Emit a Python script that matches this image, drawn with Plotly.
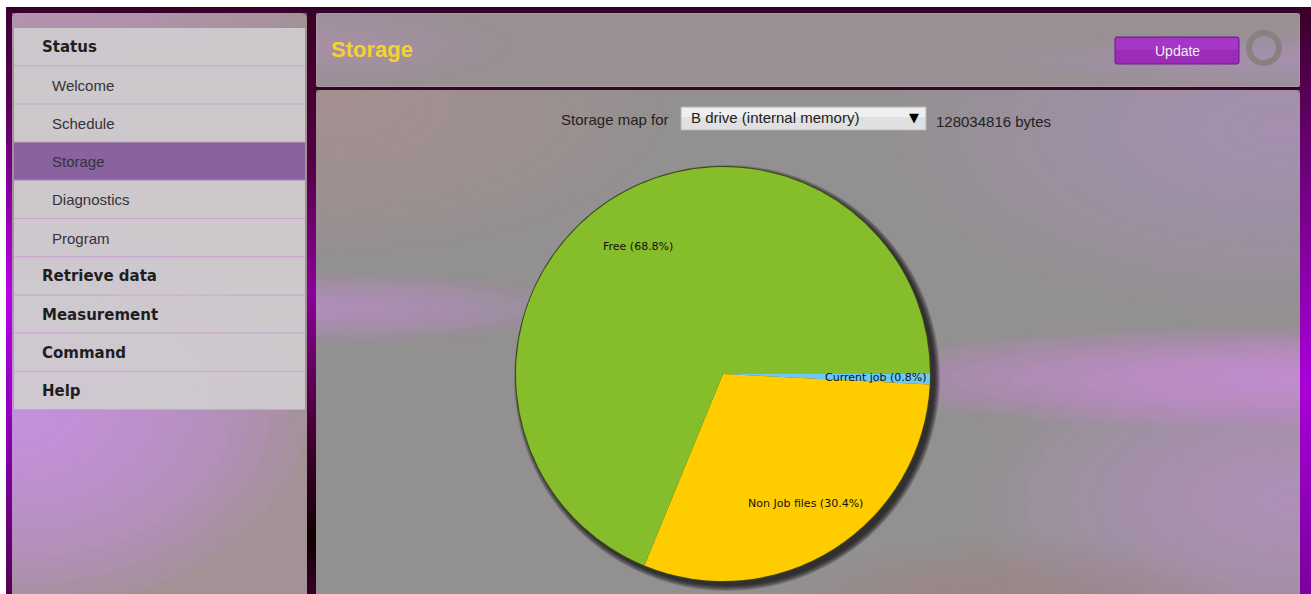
import math
import plotly.graph_objects as go

W, H = 1311, 594

# pie data
slice_labels = ['Current job', 'Non Job files', 'Free']
slice_values = [0.8, 30.4, 68.8]
slice_colors = ['#6ccaf6', '#ffcc00', '#86bd2a']

# page texts
menu_items = ['Status', 'Welcome', 'Schedule', 'Storage', 'Diagnostics', 'Program',
              'Retrieve data', 'Measurement', 'Command', 'Help']
menu_bold = [True, False, False, False, False, False, True, True, True, True]
menu_selected = 'Storage'
page_title = 'Storage'
drive_name = 'B drive (internal memory)'
drive_bytes = 128034816

PIE_CX, PIE_CY, PIE_R = 723, 374, 207


def px(x):
    return x / W


def py(y):
    return 1 - y / H


shapes = []


def rect(x0, y0, x1, y1, fill, line=None, opacity=1.0):
    shapes.append(dict(type='rect', xref='paper', yref='paper', layer='below',
                       x0=px(x0), x1=px(x1), y0=py(y1), y1=py(y0),
                       fillcolor=fill, opacity=opacity,
                       line=dict(width=1 if line else 0, color=line or fill)))


def rrect(x0, y0, x1, y1, r, fill, line=None):
    rx, ry = r / W, r / H
    a, b, c, d = px(x0), px(x1), py(y1), py(y0)
    p = (f'M{a + rx},{d} L{b - rx},{d} Q{b},{d} {b},{d - ry} L{b},{c + ry} '
         f'Q{b},{c} {b - rx},{c} L{a + rx},{c} Q{a},{c} {a},{c + ry} '
         f'L{a},{d - ry} Q{a},{d} {a + rx},{d} Z')
    shapes.append(dict(type='path', xref='paper', yref='paper', layer='below', path=p,
                       fillcolor=fill, line=dict(width=1 if line else 0, color=line or fill)))


def ellipse(cx, cy, rx, ry, fill, opacity=1.0, line=None, lw=0):
    shapes.append(dict(type='circle', xref='paper', yref='paper', layer='below',
                       x0=px(cx - rx), x1=px(cx + rx), y0=py(cy + ry), y1=py(cy - ry),
                       fillcolor=fill, opacity=opacity,
                       line=dict(width=lw, color=line or 'rgba(0,0,0,0)')))


def glow(cx, cy, rx, ry, color, steps=14, alpha=0.06):
    for i in range(steps):
        f = 1 - i / steps
        ellipse(cx, cy, rx * f, ry * f, color, opacity=alpha)


def hex2rgb(h):
    h = h.lstrip('#')
    return [int(h[i:i + 2], 16) for i in (0, 2, 4)]


def vgrad(x0, x1, stops, step=3):
    # vertical colour ramp made of thin strips
    for j in range(len(stops) - 1):
        ya, ca = stops[j]
        yb, cb = stops[j + 1]
        ca, cb = hex2rgb(ca), hex2rgb(cb)
        y = ya
        while y < yb:
            t = (y - ya) / max(yb - ya, 1)
            c = [round(ca[k] + (cb[k] - ca[k]) * t) for k in range(3)]
            rect(x0, y, x1, min(y + step, yb), 'rgb({},{},{})'.format(*c))
            y += step


# main content panel
rect(6, 7, W, H, '#48063f')
rrect(316, 90, 1300, H + 8, 5, '#929090')
glow(340, 110, 320, 140, '#b8929c')
glow(320, 308, 260, 36, '#c88cd0', alpha=0.07)
glow(1310, 378, 480, 52, '#d490ea', steps=16, alpha=0.08)
glow(1280, 130, 380, 180, '#be92c8')
glow(1300, 500, 320, 160, '#c892d8')
glow(1020, 610, 240, 70, '#a89090')

# header panel
rrect(316, 13, 1300, 87, 5, '#989092', line='#b4a4b0')
glow(316, 45, 190, 42, '#b896b4')
glow(1310, 60, 320, 27, '#be98c4')

# sidebar panel (glows kept inside it)
rrect(12, 13, 307, H + 8, 6, '#a29296')
glow(12, 13, 295, 60, '#c696c6', alpha=0.07)
glow(12, 410, 295, 200, '#d890f0', steps=16, alpha=0.09)

# frame strips
vgrad(6, 12, [(7, '#3a0030'), (100, '#5a0058'), (290, '#b400e6'), (420, '#8c00b8'), (594, '#520052')])
vgrad(307, 316, [(7, '#3a0022'), (150, '#500040'), (290, '#8a0098'), (420, '#4a0038'), (540, '#100000'), (594, '#380028')])
vgrad(1300, W, [(7, '#3a0024'), (120, '#600062'), (380, '#a800d8'), (594, '#7c009c')])
rect(12, 7, 1300, 13, '#36022c')
rect(316, 87, 1300, 90, '#3a0424')

# page margin
rect(0, 0, W, 7, '#ffffff')
rect(0, 0, 6, H, '#ffffff')

# menu rows
row_top, row_h = 28, 38.2
annotations = []
for i, item in enumerate(menu_items):
    y0 = row_top + i * row_h
    sel = item == menu_selected
    rect(14, y0, 305, y0 + row_h, '#8a62a0' if sel else '#d0ccd0', opacity=1 if sel else 0.93)
    rect(14, y0 + row_h - 1, 305, y0 + row_h, '#c8a2cc')
    if menu_bold[i]:
        fnt = dict(family='DejaVu Sans', size=15, color='#1e1e22', weight='bold')
    else:
        fnt = dict(family='Liberation Sans', size=15, color='#333338')
    annotations.append(dict(
        text=item, xref='paper', yref='paper', x=px(40 if menu_bold[i] else 50),
        y=py(y0 + row_h / 2), xanchor='left', yanchor='middle', showarrow=False, font=fnt))

# title
annotations.append(dict(text='<b>' + page_title + '</b>', xref='paper', yref='paper',
                        x=px(329), y=py(49), xanchor='left', yanchor='middle', showarrow=False,
                        font=dict(family='Liberation Sans', size=22, color='#f6d230')))

# update button + spinner
rrect(1115, 37, 1239, 64, 2, '#9a2cb8', line='#6c1a84')
rect(1116, 38, 1238, 50, '#b040d0', opacity=0.55)
annotations.append(dict(text='Update', xref='paper', yref='paper', x=px(1177), y=py(51),
                        xanchor='center', yanchor='middle', showarrow=False,
                        font=dict(family='Liberation Sans', size=14, color='#f4eef6')))
ellipse(1264, 48, 15, 15, 'rgba(0,0,0,0)', line='#8a8082', lw=6)

# selector row
txt = dict(family='Liberation Sans', size=15, color='#222222')
annotations.append(dict(text='Storage map for', xref='paper', yref='paper', x=px(671), y=py(119),
                        xanchor='right', yanchor='middle', showarrow=False, font=txt))
rect(681, 107, 926, 130, '#e0e0e0', line='#b8b8b8')
rect(682, 108, 925, 117, '#f2f2f2', opacity=0.8)
annotations.append(dict(text=drive_name, xref='paper', yref='paper', x=px(689), y=py(118),
                        xanchor='left', yanchor='middle', showarrow=False, font=txt))
annotations.append(dict(text='▼', xref='paper', yref='paper', x=px(914), y=py(118),
                        xanchor='center', yanchor='middle', showarrow=False,
                        font=dict(family='DejaVu Sans', size=13, color='#000000')))
annotations.append(dict(text=f'{drive_bytes} bytes', xref='paper', yref='paper', x=px(934),
                        y=py(121), xanchor='left', yanchor='middle', showarrow=False, font=txt))

# pie shadow and rim
for k in range(6):
    ellipse(PIE_CX + 4, PIE_CY + 4, PIE_R + 6 - k, PIE_R + 6 - k, '#000000', opacity=0.16)
ellipse(PIE_CX, PIE_CY, PIE_R + 1, PIE_R + 1, '#3c4a1c')

fig = go.Figure()
fig.add_trace(go.Pie(
    labels=slice_labels, values=slice_values, sort=False, direction='clockwise',
    rotation=90, marker=dict(colors=slice_colors, line=dict(width=0)),
    textinfo='none', hoverinfo='label+percent', showlegend=False,
    domain=dict(x=[px(PIE_CX - PIE_R), px(PIE_CX + PIE_R)],
                y=[py(PIE_CY + PIE_R), py(PIE_CY - PIE_R)]),
))

# slice labels at ~3/4 radius, slice middle
total = sum(slice_values)
cum = 0
for lab, v in zip(slice_labels, slice_values):
    ang = math.radians(360 * (cum + v / 2) / total)
    cum += v
    lx = PIE_CX + 0.74 * PIE_R * math.cos(ang)
    ly = PIE_CY + 0.74 * PIE_R * math.sin(ang)
    annotations.append(dict(text=f'{lab} ({100 * v / total:.1f}%)', xref='paper', yref='paper',
                            x=px(lx), y=py(ly), xanchor='center', yanchor='middle',
                            showarrow=False,
                            font=dict(family='DejaVu Sans', size=11, color='#111111')))

fig.update_layout(width=W, height=H, margin=dict(l=0, r=0, t=0, b=0),
                  paper_bgcolor='#48063f', plot_bgcolor='rgba(0,0,0,0)',
                  shapes=shapes, annotations=annotations)
fig.write_html('out.html', config={'displayModeBar': False},
               post_script="document.body.style.margin='0';")
